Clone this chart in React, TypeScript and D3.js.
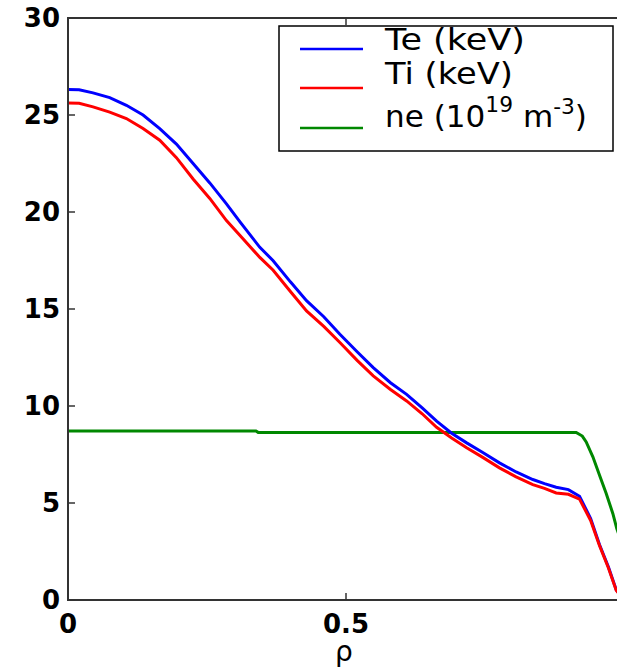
import React from "react";
import * as d3 from "d3";

const rho = [0, 0.02, 0.045, 0.075, 0.105, 0.135, 0.165, 0.195, 0.225, 0.255, 0.285, 0.309, 0.345, 0.369, 0.4, 0.429, 0.46, 0.489, 0.52, 0.549, 0.58, 0.609, 0.637, 0.663, 0.69, 0.717, 0.746, 0.776, 0.806, 0.836, 0.857, 0.878, 0.9, 0.92, 0.94, 0.956, 0.972, 0.986, 1.0];
const te = [26.32, 26.3, 26.14, 25.9, 25.5, 25.0, 24.3, 23.5, 22.5, 21.5, 20.42, 19.5, 18.18, 17.49, 16.4, 15.43, 14.6, 13.7, 12.8, 11.98, 11.2, 10.6, 9.9, 9.22, 8.6, 8.1, 7.6, 7.07, 6.6, 6.21, 6.0, 5.81, 5.69, 5.35, 4.2, 2.85, 1.7, 0.53, 0.0];
const ti = [25.62, 25.6, 25.42, 25.15, 24.82, 24.3, 23.7, 22.8, 21.7, 20.7, 19.56, 18.8, 17.66, 17.0, 15.9, 14.9, 14.1, 13.27, 12.35, 11.55, 10.85, 10.26, 9.6, 8.9, 8.35, 7.85, 7.35, 6.81, 6.35, 5.95, 5.75, 5.52, 5.45, 5.2, 4.1, 2.8, 1.65, 0.5, 0.0];
const neRho = [0, 0.338, 0.342, 0.914, 0.925, 0.932, 0.944, 0.956, 0.968, 0.98, 0.987, 1.0];
const ne = [8.71, 8.71, 8.64, 8.64, 8.45, 8.15, 7.38, 6.43, 5.49, 4.45, 3.68, 2.6];

const xTicks = [0, 0.5, 1];
const yTicks = [0, 5, 10, 15, 20, 25, 30];
const xLabel = "ρ";

const L = 68, R = 624, T = 18, B = 600;

export default function App() {
  const x = d3.scaleLinear().domain([0, 1]).range([L, R]);
  const y = d3.scaleLinear().domain([0, 30]).range([B, T]);
  const line = d3.line<[number, number]>().x((d) => x(d[0])).y((d) => y(d[1]));
  const teD = line(rho.map((r, i) => [r, te[i]]) as [number, number][]) || "";
  const tiD = line(rho.map((r, i) => [r, ti[i]]) as [number, number][]) || "";
  const neD = line(neRho.map((r, i) => [r, ne[i]]) as [number, number][]) || "";
  const tickFont = { fontFamily: "DejaVu Sans", fontWeight: "bold" as const, fontSize: 26 };
  const legFont = { fontFamily: "DejaVu Sans", fontSize: 30 };
  const axisColor = "#333";
  const tl = 7;
  return (
    <div style={{ position: "absolute", left: 0, top: 0, width: 617, height: 667, overflow: "hidden", background: "#fff" }}>
      <svg width={617} height={667} style={{ display: "block" }}>
        <rect x={0} y={0} width={617} height={667} fill="#fff" />
        <defs>
          <clipPath id="plotclip">
            <rect x={L} y={T} width={R - L} height={B - T} />
          </clipPath>
        </defs>
        <g clipPath="url(#plotclip)">
          <path d={neD} fill="none" stroke="#008800" strokeWidth={3} />
          <path d={teD} fill="none" stroke="#0000ff" strokeWidth={3} />
          <path d={tiD} fill="none" stroke="#ff0000" strokeWidth={3} />
        </g>
        <rect x={L} y={T} width={R - L} height={B - T} fill="none" stroke={axisColor} strokeWidth={2} />
        {yTicks.map((t) => (
          <g key={"y" + t}>
            <line x1={L} x2={L + tl} y1={y(t)} y2={y(t)} stroke={axisColor} strokeWidth={1.5} />
            <line x1={R} x2={R - tl} y1={y(t)} y2={y(t)} stroke={axisColor} strokeWidth={1.5} />
            <text x={60} y={y(t)} dy="0.36em" textAnchor="end" {...tickFont} fill="#000">{t}</text>
          </g>
        ))}
        {xTicks.map((t) => (
          <g key={"x" + t}>
            <line x1={x(t)} x2={x(t)} y1={B} y2={B - tl} stroke={axisColor} strokeWidth={1.5} />
            <line x1={x(t)} x2={x(t)} y1={T} y2={T + tl} stroke={axisColor} strokeWidth={1.5} />
            <text x={x(t)} y={633} textAnchor="middle" {...tickFont} fill="#000">{t}</text>
          </g>
        ))}
        <text x={344} y={661} textAnchor="middle" fontFamily="DejaVu Sans" fontSize={28} fill="#000">{xLabel}</text>
        <rect x={279} y={26} width={334} height={125} fill="#fff" stroke="#000" strokeWidth={1.5} />
        <line x1={300} x2={363} y1={49} y2={49} stroke="#0000ff" strokeWidth={2.5} />
        <line x1={300} x2={363} y1={88} y2={88} stroke="#ff0000" strokeWidth={2.5} />
        <line x1={300} x2={363} y1={128} y2={128} stroke="#008800" strokeWidth={2.5} />
        <text x={385} y={50} {...legFont} textLength={140} lengthAdjust="spacingAndGlyphs" fill="#000">Te (keV)</text>
        <text x={385} y={84} {...legFont} textLength={128} lengthAdjust="spacingAndGlyphs" fill="#000">Ti (keV)</text>
        <text x={385} y={127} {...legFont} textLength={202} lengthAdjust="spacingAndGlyphs" fill="#000">
          <tspan>ne (10</tspan>
          <tspan dy={-15} fontSize={21}>19</tspan>
          <tspan dy={15}> m</tspan>
          <tspan dy={-13} fontSize={21}>-3</tspan>
          <tspan dy={13}>)</tspan>
        </text>
      </svg>
    </div>
  );
}
